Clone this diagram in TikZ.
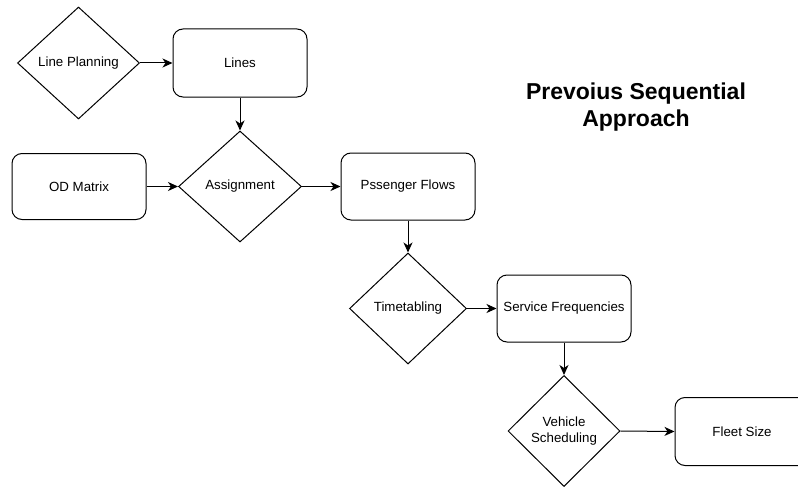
\documentclass[tikz,border=0pt]{standalone}
\usepackage{fontspec}
\setmainfont{Liberation Sans}
\usetikzlibrary{shapes.geometric,arrows.meta}
\begin{document}
\begin{tikzpicture}[x=1pt,y=-1pt,
  every node/.style={font=\fontsize{13.3}{15.5}\selectfont},
  box/.style={draw, line width=1pt, rounded corners=10pt, minimum width=134pt, minimum height=67pt, inner sep=0pt, align=center},
  decision/.style={draw, diamond, line width=1pt, aspect=1, inner sep=0pt, align=center},
  flow/.style={line width=1pt, -{Stealth[length=10pt,width=9pt,inset=3pt]}}
]
\useasboundingbox (0,0) rectangle (798,487);

% process chain
\node[decision, minimum width=122pt, minimum height=112pt] (lp) at (78.5,63) {Line Planning};
\node[box, minimum height=68pt] (lines) at (240,63) {Lines};
\node[decision, minimum width=123pt, minimum height=111pt] (asg) at (240,186.5) {Assignment};
\node[box, minimum height=66pt] (od) at (79,186.5) {OD Matrix};
\node[box] (pf) at (408,186.5) {Pssenger Flows};
\node[decision, minimum width=117pt, minimum height=111pt] (tt) at (408,308.5) {Timetabling};
\node[box] (sf) at (564,308.5) {Service Frequencies};
\node[decision, minimum width=112pt, minimum height=111pt] (vs) at (564,431) {Vehicle\\Scheduling};
\node[box, minimum height=68pt] (fs) at (742,431.5) {Fleet Size};

% title
\node[font=\fontsize{23}{27}\selectfont\bfseries, align=center] (title) at (636,107) {Prevoius Sequential\\Approach};

% connectors
\draw[flow] (lp.east) -- (lines.west);
\draw[flow] (lines.south) -- (asg.north);
\draw[flow] (od.east) -- (asg.west);
\draw[flow] (asg.east) -- (pf.west);
\draw[flow] (pf.south) -- (tt.north);
\draw[flow] (tt.east) -- (sf.west);
\draw[flow] (sf.south) -- (vs.north);
\draw[flow] (vs.east) -- (fs.west);
\end{tikzpicture}
\end{document}
